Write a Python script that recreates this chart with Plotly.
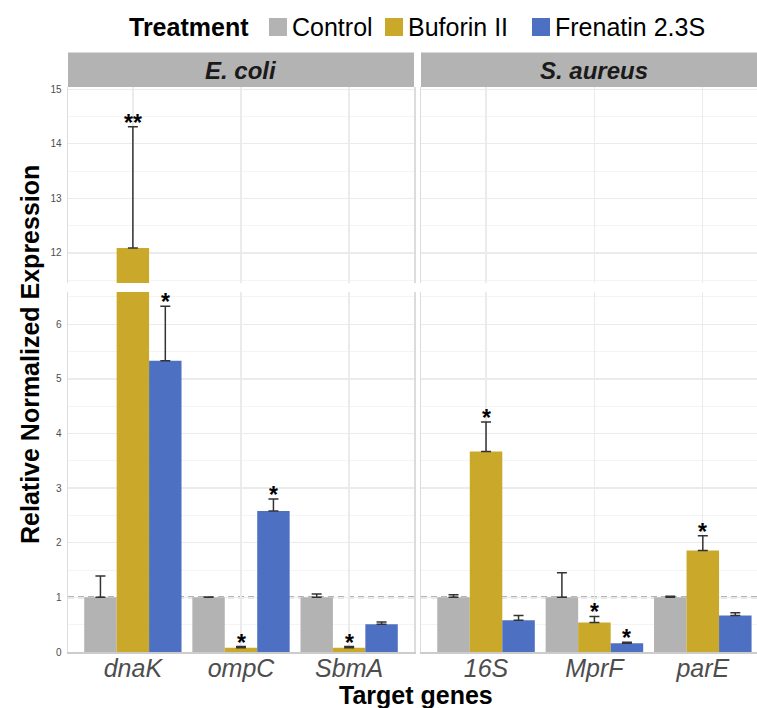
import plotly.graph_objects as go

# ---------------- data ----------------
treatments = ["Control", "Buforin II", "Frenatin 2.3S"]
treatment_colors = ["#b3b3b3", "#c9a82a", "#4e70c3"]

ecoli_genes = ["dnaK", "ompC", "SbmA"]
ecoli_control = [1.0, 1.0, 1.0]
ecoli_control_err = [0.39, 0.005, 0.06]
ecoli_buforin = [12.09, 0.08, 0.08]
ecoli_buforin_err = [2.22, 0.02, 0.02]
ecoli_frenatin = [5.33, 2.58, 0.51]
ecoli_frenatin_err = [1.0, 0.22, 0.04]
ecoli_control_sig = ["", "", ""]
ecoli_buforin_sig = ["**", "*", "*"]
ecoli_frenatin_sig = ["*", "*", ""]

saureus_genes = ["16S", "MprF", "parE"]
saureus_control = [1.0, 1.0, 1.0]
saureus_control_err = [0.05, 0.45, 0.02]
saureus_buforin = [3.67, 0.54, 1.86]
saureus_buforin_err = [0.54, 0.11, 0.27]
saureus_frenatin = [0.58, 0.16, 0.67]
saureus_frenatin_err = [0.09, 0.02, 0.05]
saureus_control_sig = ["", "", ""]
saureus_buforin_sig = ["*", "*", "*"]
saureus_frenatin_sig = ["", "*", ""]

facet_titles = ["E. coli", "S. aureus"]
top_ticks = [12, 13, 14, 15]
bottom_ticks = [0, 1, 2, 3, 4, 5, 6]
top_range = [11.45, 15.04]
bottom_range = [0, 6.59]
reference_level = 1.0

# ---------------- layout helpers ----------------
W, H = 757, 708
FONT = "Liberation Sans"


def px_x(p):
    return p / W


def px_y(p):
    return 1 - p / H


facets = [
    dict(genes=ecoli_genes,
         vals=[ecoli_control, ecoli_buforin, ecoli_frenatin],
         errs=[ecoli_control_err, ecoli_buforin_err, ecoli_frenatin_err],
         sigs=[ecoli_control_sig, ecoli_buforin_sig, ecoli_frenatin_sig]),
    dict(genes=saureus_genes,
         vals=[saureus_control, saureus_buforin, saureus_frenatin],
         errs=[saureus_control_err, saureus_buforin_err, saureus_frenatin_err],
         sigs=[saureus_control_sig, saureus_buforin_sig, saureus_frenatin_sig]),
]

axis_pairs = {("top", 0): ("x", "y"), ("top", 1): ("x2", "y2"),
              ("bot", 0): ("x3", "y3"), ("bot", 1): ("x4", "y4")}

dodge = 0.9
bar_w = dodge / len(treatments)

fig = go.Figure()
annotations = []

for fi, fc in enumerate(facets):
    idx = list(range(len(fc["genes"])))
    for part in ("top", "bot"):
        xa, ya = axis_pairs[(part, fi)]
        rng = top_range if part == "top" else bottom_range
        for ti, tname in enumerate(treatments):
            offs = (ti - (len(treatments) - 1) / 2) * bar_w
            xs = [i + offs for i in idx]
            fig.add_trace(go.Bar(
                x=xs, y=fc["vals"][ti], width=bar_w,
                marker=dict(color=treatment_colors[ti], line=dict(width=0)),
                error_y=dict(type="data", symmetric=False,
                             array=fc["errs"][ti],
                             arrayminus=[0] * len(idx),
                             color="#333333", thickness=1.5, width=5),
                name=tname, showlegend=False,
                xaxis=xa, yaxis=ya, hoverinfo="skip"))
            tops = [v + e for v, e in zip(fc["vals"][ti], fc["errs"][ti])]
            for x, t, s in zip(xs, tops, fc["sigs"][ti]):
                if s and rng[0] <= t <= rng[1]:
                    annotations.append(dict(
                        x=x, y=t, xref=xa, yref=ya, text=f"<b>{s}</b>",
                        showarrow=False, xanchor="center", yanchor="middle",
                        yshift=4,
                        font=dict(family=FONT, size=23, color="black")))

left_dom = [px_x(68), px_x(414)]
right_dom = [px_x(421), 1.0]
top_dom = [px_y(283), px_y(87)]
bot_dom = [px_y(652), px_y(292)]

grid_major = "#ebebeb"
grid_minor = "#f4f4f4"
border = "#dcdcdc"

common_x = dict(tickmode="array", tickvals=[0, 1, 2], showgrid=True,
                gridcolor=grid_major, gridwidth=1.3, zeroline=False,
                ticks="", fixedrange=True, automargin=False)
common_y = dict(showgrid=True, gridcolor=grid_major, gridwidth=1.3,
                zeroline=False, ticks="", showline=True, mirror=True,
                linecolor=border, linewidth=1.5, ticklabelstandoff=3,
                automargin=False, fixedrange=True,
                minor=dict(dtick=0.5, showgrid=True, gridcolor=grid_minor,
                           gridwidth=1),
                tickfont=dict(family=FONT, size=10, color="#4d4d4d"))
gene_font = dict(family=FONT, size=25, color="#4d4d4d", style="italic")

fig.update_layout(
    xaxis=dict(common_x, domain=left_dom, range=[-0.6, 2.6], anchor="y",
               showticklabels=False),
    xaxis2=dict(common_x, domain=right_dom, range=[-0.6, 2.5], anchor="y2",
                showticklabels=False),
    xaxis3=dict(common_x, domain=left_dom, range=[-0.6, 2.6], anchor="y3",
                ticktext=ecoli_genes, showline=True, linecolor="#cccccc",
                linewidth=1.5, tickfont=gene_font, ticklabelstandoff=-7),
    xaxis4=dict(common_x, domain=right_dom, range=[-0.6, 2.5], anchor="y4",
                ticktext=saureus_genes, showline=True, linecolor="#cccccc",
                linewidth=1.5, tickfont=gene_font, ticklabelstandoff=-7),
    yaxis=dict(common_y, domain=top_dom, range=top_range, anchor="x",
               tickmode="array", tickvals=top_ticks),
    yaxis2=dict(common_y, domain=top_dom, range=top_range, anchor="x2",
                tickmode="array", tickvals=top_ticks, showticklabels=False),
    yaxis3=dict(common_y, domain=bot_dom, range=bottom_range, anchor="x3",
                tickmode="array", tickvals=bottom_ticks),
    yaxis4=dict(common_y, domain=bot_dom, range=bottom_range, anchor="x4",
                tickmode="array", tickvals=bottom_ticks, showticklabels=False),
)

shapes = []
for xa, ya in (("x3", "y3"), ("x4", "y4")):
    shapes.append(dict(type="line", xref=f"{xa} domain", yref=ya,
                       x0=0, x1=1, y0=reference_level, y1=reference_level,
                       layer="below",
                       line=dict(color="#9c9c9c", width=2, dash="6px,4px")))

# facet strips
strip_w = px_x(414) - px_x(68)
for dom, title in zip((left_dom, right_dom), facet_titles):
    shapes.append(dict(type="rect", xref="paper", yref="paper",
                       x0=dom[0], x1=dom[1], y0=px_y(87), y1=px_y(52.5),
                       fillcolor="#b3b3b3", line=dict(width=0)))
    annotations.append(dict(xref="paper", yref="paper",
                            x=dom[0] + strip_w / 2, y=px_y(70),
                            text=f"<b><i>{title}</i></b>",
                            showarrow=False, xanchor="center", yanchor="middle",
                            font=dict(family=FONT, size=24, color="#1a1a1a")))

# legend (text + swatches)
legend_y = 27
annotations.append(dict(xref="paper", yref="paper", x=px_x(127), y=px_y(legend_y),
                        text="<b>Treatment</b>", showarrow=False,
                        xanchor="left", yanchor="middle",
                        font=dict(family=FONT, size=25, color="black")))
swatch_left = [269, 385, 532]
for sx, tname, col in zip(swatch_left, treatments, treatment_colors):
    shapes.append(dict(type="rect", xref="paper", yref="paper",
                       x0=px_x(sx), x1=px_x(sx + 18),
                       y0=px_y(legend_y + 9), y1=px_y(legend_y - 9),
                       fillcolor=col, line=dict(width=0)))
    annotations.append(dict(xref="paper", yref="paper", x=px_x(sx + 21),
                            y=px_y(legend_y), text=tname, showarrow=False,
                            xanchor="left", yanchor="middle",
                            font=dict(family=FONT, size=25, color="black")))

# axis titles
annotations.append(dict(xref="paper", yref="paper", x=px_x(30), y=px_y(355),
                        text="<b>Relative Normalized Expression</b>",
                        textangle=-90, showarrow=False,
                        xanchor="center", yanchor="middle",
                        font=dict(family=FONT, size=25, color="black")))
annotations.append(dict(xref="paper", yref="paper", x=px_x(416), y=px_y(695),
                        text="<b>Target genes</b>", showarrow=False,
                        xanchor="center", yanchor="middle",
                        font=dict(family=FONT, size=25, color="black")))

fig.update_layout(
    width=W, height=H, margin=dict(l=0, r=0, t=0, b=0),
    paper_bgcolor="white", plot_bgcolor="white",
    barmode="overlay", showlegend=False, hovermode=False,
    shapes=shapes, annotations=annotations,
    font=dict(family=FONT),
)

# remove the browser's default 8px body margin so the figure fills the window
fig.write_html("out.html",
               config={"displayModeBar": False, "staticPlot": True},
               post_script="document.body.style.margin='0px';"
                           "document.body.style.overflow='hidden';")
